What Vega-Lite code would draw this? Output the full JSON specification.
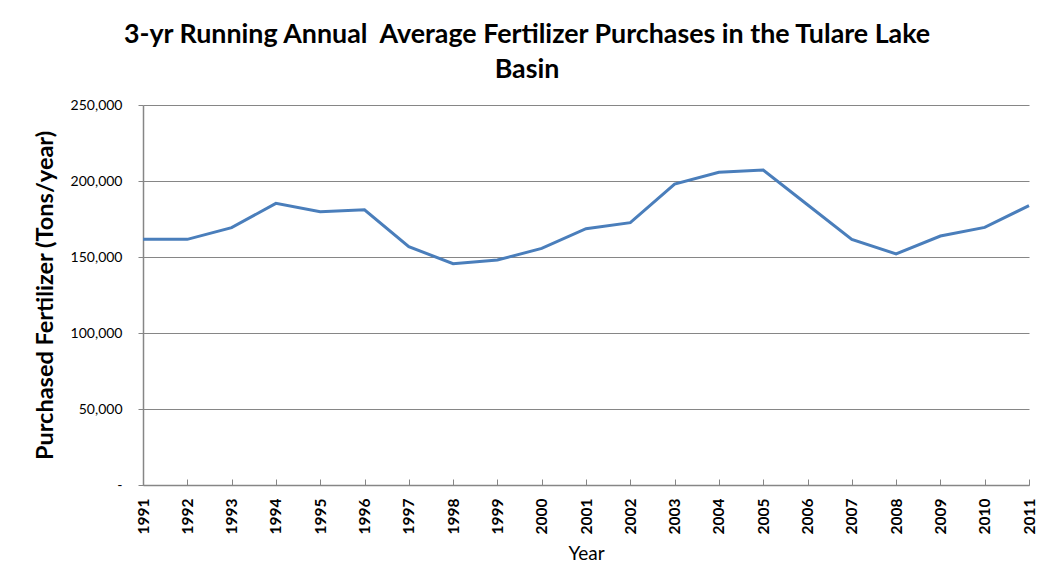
{
  "$schema": "https://vega.github.io/schema/vega-lite/v6.json",
  "width": 886,
  "height": 380,
  "autosize": {"type": "none"},
  "padding": {"left": 143, "top": 105, "right": 10, "bottom": 102},
  "background": "white",
  "config": {
    "font": "Lato",
    "view": {"stroke": null}
  },
  "title": {
    "text": ["3-yr Running Annual\u00a0 Average Fertilizer Purchases in the Tulare Lake", "Basin"],
    "fontSize": 26.8,
    "fontWeight": "bold",
    "font": "Lato",
    "color": "black",
    "lineHeight": 35,
    "anchor": "middle",
    "dx": -59,
    "offset": 14
  },
  "data": {
    "values": [
      {"year": 1991, "tons": 161600},
      {"year": 1992, "tons": 161600},
      {"year": 1993, "tons": 169300},
      {"year": 1994, "tons": 185300},
      {"year": 1995, "tons": 179800},
      {"year": 1996, "tons": 181100},
      {"year": 1997, "tons": 156800},
      {"year": 1998, "tons": 145600},
      {"year": 1999, "tons": 148000},
      {"year": 2000, "tons": 155700},
      {"year": 2001, "tons": 168600},
      {"year": 2002, "tons": 172600},
      {"year": 2003, "tons": 198000},
      {"year": 2004, "tons": 205700},
      {"year": 2005, "tons": 207200},
      {"year": 2006, "tons": 184400},
      {"year": 2007, "tons": 161600},
      {"year": 2008, "tons": 152000},
      {"year": 2009, "tons": 163800},
      {"year": 2010, "tons": 169500},
      {"year": 2011, "tons": 183800}
    ]
  },
  "mark": {"type": "line", "color": "#4a7ebb", "strokeWidth": 3},
  "encoding": {
    "x": {
      "field": "year",
      "type": "quantitative",
      "scale": {"domain": [1991, 2011], "nice": false, "zero": false},
      "axis": {
        "title": "Year",
        "values": [1991,1992,1993,1994,1995,1996,1997,1998,1999,2000,2001,2002,2003,2004,2005,2006,2007,2008,2009,2010,2011],
        "format": "d",
        "grid": false,
        "labelAngle": -90,
        "labelAlign": "right",
        "labelBaseline": "middle",
        "labelFontWeight": "bold",
        "labelFontSize": 15.5,
        "labelColor": "black",
        "labelPadding": 19,
        "tickSize": -6,
        "tickColor": "#868686",
        "domainColor": "#868686",
        "domainWidth": 1.5,
        "titleFontSize": 19,
        "titleFontWeight": "normal",
        "titleColor": "black",
        "titleBaseline": "middle",
        "titleY": 68
      }
    },
    "y": {
      "field": "tons",
      "type": "quantitative",
      "scale": {"domain": [0, 250000], "nice": false},
      "axis": {
        "title": "Purchased Fertilizer (Tons/year)",
        "values": [0, 50000, 100000, 150000, 200000, 250000],
        "labelExpr": "datum.value == 0 ? '-' : format(datum.value, ',')",
        "labelFontSize": 14,
        "labelColor": "black",
        "labelPadding": 16,
        "tickSize": 5,
        "tickColor": "#868686",
        "domainColor": "#868686",
        "domainWidth": 1.5,
        "gridColor": "#868686",
        "gridWidth": 1,
        "titleFontSize": 23.5,
        "titleFontWeight": "bold",
        "titleColor": "black",
        "titleAngle": -90,
        "titleBaseline": "middle",
        "titleAlign": "center",
        "titleX": -98,
        "titleY": 190
      }
    }
  }
}
